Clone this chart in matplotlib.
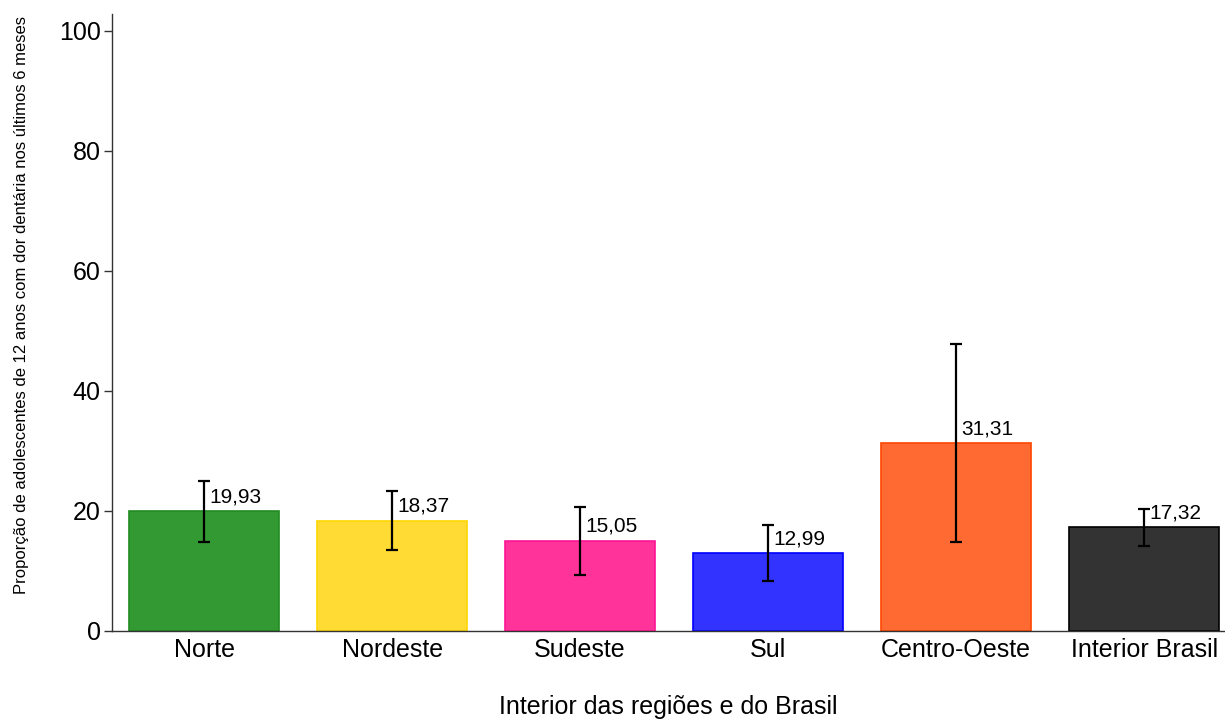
import matplotlib
matplotlib.use('Agg')
import matplotlib.pyplot as plt
import numpy as np

plt.rcParams['font.family'] = ['Liberation Sans', 'DejaVu Sans']

# Dados
regioes = ['Norte', 'Nordeste', 'Sudeste', 'Sul', 'Centro-Oeste', 'Interior Brasil']
proporcao = [19.93, 18.37, 15.05, 12.99, 31.31, 17.32]
ic_inferior = [14.8, 13.5, 9.4, 8.4, 14.8, 14.1]
ic_superior = [25.0, 23.3, 20.7, 17.7, 47.8, 20.3]
cores = ['#339933', '#FFDB33', '#FF3399', '#3333FF', '#FF6A33', '#333333']
bordas = ['#228B22', '#FFD700', '#FF1493', '#0000FF', '#FF4500', '#000000']
rotulos = ['19,93', '18,37', '15,05', '12,99', '31,31', '17,32']

fig = plt.figure(figsize=(12.25, 7.19), dpi=100)
ax = fig.add_axes([0.0914, 0.1224, 0.9086, 0.858])

x = np.arange(len(regioes))
erro = [np.array(proporcao) - np.array(ic_inferior),
        np.array(ic_superior) - np.array(proporcao)]

ax.bar(x, proporcao, width=0.8, color=cores, edgecolor=bordas, linewidth=1.2)
ax.errorbar(x, proporcao, yerr=erro, fmt='none', ecolor='black',
            elinewidth=1.6, capsize=4, capthick=1.6)

# rótulos dos valores
for xi, yi, txt in zip(x, proporcao, rotulos):
    ax.annotate(txt, (xi, yi), xytext=(3.5, 6.5), textcoords='offset points',
                ha='left', va='baseline', fontsize=15)

ax.set_xlim(-0.49, 5.43)
ax.set_ylim(0, 102.8)
ax.set_yticks([0, 20, 40, 60, 80, 100])
ax.set_xticks(x)
ax.set_xticklabels(regioes)

ax.spines['top'].set_visible(False)
ax.spines['right'].set_visible(False)
for s in ['left', 'bottom']:
    ax.spines[s].set_color('#333333')
    ax.spines[s].set_linewidth(1.0)

ax.tick_params(axis='y', labelsize=18, length=6, width=1.0, color='#333333', pad=2)
ax.tick_params(axis='x', labelsize=18, length=0, pad=5)

ax.set_xlabel('Interior das regiões e do Brasil', fontsize=18, labelpad=24)
ax.set_ylabel('Proporção de adolescentes de 12 anos com dor dentária nos últimos 6 meses',
              fontsize=12)
ax.yaxis.set_label_coords(-0.0748, 0.528)

plt.savefig('out.png', dpi=100)
